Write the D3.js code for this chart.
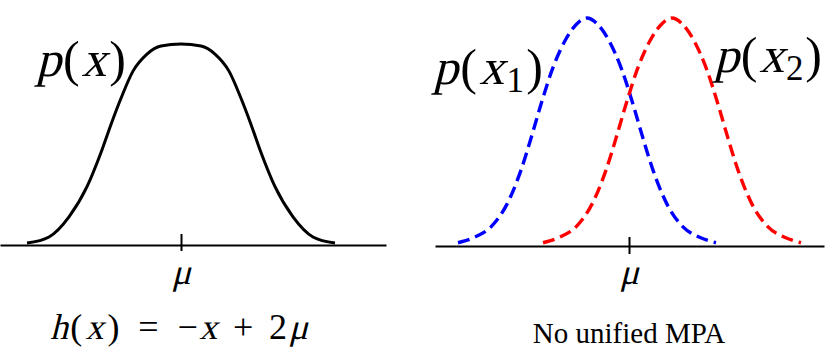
<!DOCTYPE html>
<html>
<head>
<meta charset="utf-8">
<script src="https://cdn.jsdelivr.net/npm/d3@7"></script>
<style>
  body { margin: 0; background: #fff; }
  svg { display: block; }
</style>
</head>
<body>
<script>
// flat-topped density, left panel (x in units of 40px, mu = 0)
var leftX = [-3.85, -3.3, -2.8, -2.35, -2.0, -1.75, -1.5, -1.2, -0.85, -0.5, 0, 0.5, 0.85, 1.2, 1.5, 1.75, 2.0, 2.35, 2.8, 3.3, 3.85];
var leftP = [0.01, 0.04, 0.14, 0.29, 0.46, 0.60, 0.73, 0.865, 0.95, 0.99, 1.0, 0.99, 0.95, 0.865, 0.73, 0.60, 0.46, 0.29, 0.14, 0.04, 0.01];

// two bell curves, right panel
var blueX = [-4.275, -3.85, -3.45, -3.05, -2.7, -2.45, -2.2, -1.925, -1.6, -1.3, -1.05, -0.8, -0.5, -0.175, 0.1, 0.35, 0.6, 0.95, 1.35, 1.75, 2.175];
var redX  = [-2.15, -1.725, -1.325, -0.925, -0.575, -0.325, -0.075, 0.2, 0.525, 0.825, 1.075, 1.325, 1.625, 1.95, 2.225, 2.475, 2.725, 3.075, 3.475, 3.875, 4.3];
var bellP = [0.01, 0.035, 0.08, 0.18, 0.33, 0.47, 0.62, 0.77, 0.90, 0.975, 1.0, 0.975, 0.90, 0.77, 0.62, 0.47, 0.33, 0.18, 0.08, 0.035, 0.01];

var tickLabel = "μ";
var serif = "Liberation Serif";
var slant = " skewX(-14)";   // no italic serif face installed, so slant the upright one

var width = 830, height = 353;

var svg = d3.select("body").append("svg")
    .attr("width", width)
    .attr("height", height);

// scales
var xL = d3.scaleLinear().domain([-4.525, 5.125]).range([0, 386]);
var yL = d3.scaleLinear().domain([0, 1]).range([245, 44]);
var xR = d3.scaleLinear().domain([-4.85, 4.875]).range([435, 824]);
var yR = d3.scaleLinear().domain([0, 1]).range([245, 18]);

function drawAxis(x, yPos, up, down) {
  var g = svg.append("g")
      .attr("transform", "translate(0," + yPos + ")")
      .call(d3.axisBottom(x).tickValues([0]).tickSizeOuter(0).tickFormat(function() { return tickLabel; }));
  g.attr("font-family", null);
  g.select(".domain").attr("stroke", "#000").attr("stroke-width", 2);
  g.selectAll(".tick line").attr("y1", -up).attr("y2", down).attr("stroke", "#000").attr("stroke-width", 2);
  g.selectAll(".tick text")
      .attr("y", 0).attr("dy", 0)
      .attr("transform", "translate(0," + (284 - yPos) + ")" + slant)
      .style("font-family", serif)
      .attr("font-size", 36)
      .attr("fill", "#000");
}

drawAxis(xL, 245, 11, 6);
drawAxis(xR, 246, 9, 8);

// left curve
var lineL = d3.line()
    .x(function(d) { return xL(d[0]); })
    .y(function(d) { return yL(d[1]); })
    .curve(d3.curveMonotoneX);

svg.append("path")
    .datum(d3.zip(leftX, leftP))
    .attr("fill", "none")
    .attr("stroke", "#000")
    .attr("stroke-width", 3)
    .attr("d", lineL);

// right curves
var lineR = d3.line()
    .x(function(d) { return xR(d[0]); })
    .y(function(d) { return yR(d[1]); })
    .curve(d3.curveMonotoneX);

[[blueX, "#0000ff"], [redX, "#ff0000"]].forEach(function(s) {
  svg.append("path")
      .datum(d3.zip(s[0], bellP))
      .attr("fill", "none")
      .attr("stroke", s[1])
      .attr("stroke-width", 3.4)
      .attr("stroke-dasharray", "12,6")
      .attr("d", lineR);
});

// math labels: parts = [text, italic, size factor, dy, gap weight before]
// gaps get scaled so the whole label spans `total` px
function mathText(x, y, size, parts, total) {
  var g = svg.append("g").attr("transform", "translate(" + x + "," + y + ")");
  var items = parts.map(function(p) {
    var t = g.append("text")
        .style("font-family", serif)
        .attr("font-size", size * (p[2] || 1))
        .attr("fill", "#000")
        .text(p[0]);
    return {t: t, w: t.node().getComputedTextLength(), p: p};
  });
  var natural = d3.sum(items, function(d) { return d.w; });
  var weights = d3.sum(items, function(d) { return d.p[4] || 0; });
  var k = weights ? Math.max(0, total - natural) / weights : 0;
  var cx = 0;
  items.forEach(function(d) {
    cx += (d.p[4] || 0) * k;
    d.t.attr("transform", "translate(" + cx + "," + (d.p[3] || 0) + ")" + (d.p[1] ? slant : ""));
    cx += d.w;
  });
  return g;
}

mathText(36, 76, 50, [["p", 1], ["(", 0, 0, 0, 1], ["x", 1, 0, 0, 1], [")", 0, 0, 0, 1.4]], 90);
mathText(433, 84, 50, [["p", 1], ["(", 0, 0, 0, 1], ["x", 1, 0, 0, 1], ["1", 0, 0.7, 8, 1], [")", 0, 1, 0, 1]], 110);
mathText(714, 72, 50, [["p", 1], ["(", 0, 0, 0, 1], ["x", 1, 0, 0, 1], ["2", 0, 0.7, 8, 1], [")", 0, 1, 0, 1]], 108);

mathText(50, 339, 36, [["h", 1], ["(", 0, 0, 0, 0.3], ["x", 1, 0, 0, 0.4], [")", 0, 0, 0, 0.5],
    ["=", 0, 0, 0, 2.4], ["−", 0, 0, 0, 2.4], ["x", 1, 0, 0, 0.2], ["+", 0, 0, 0, 2],
    ["2", 0, 0, 0, 2], ["μ", 1, 0, 0, 0.2]], 258);

svg.append("text")
    .style("font-family", serif)
    .attr("x", 629).attr("y", 343)
    .attr("text-anchor", "middle")
    .attr("font-size", 29)
    .attr("fill", "#000")
    .text("No unified MPA");
</script>
</body>
</html>
